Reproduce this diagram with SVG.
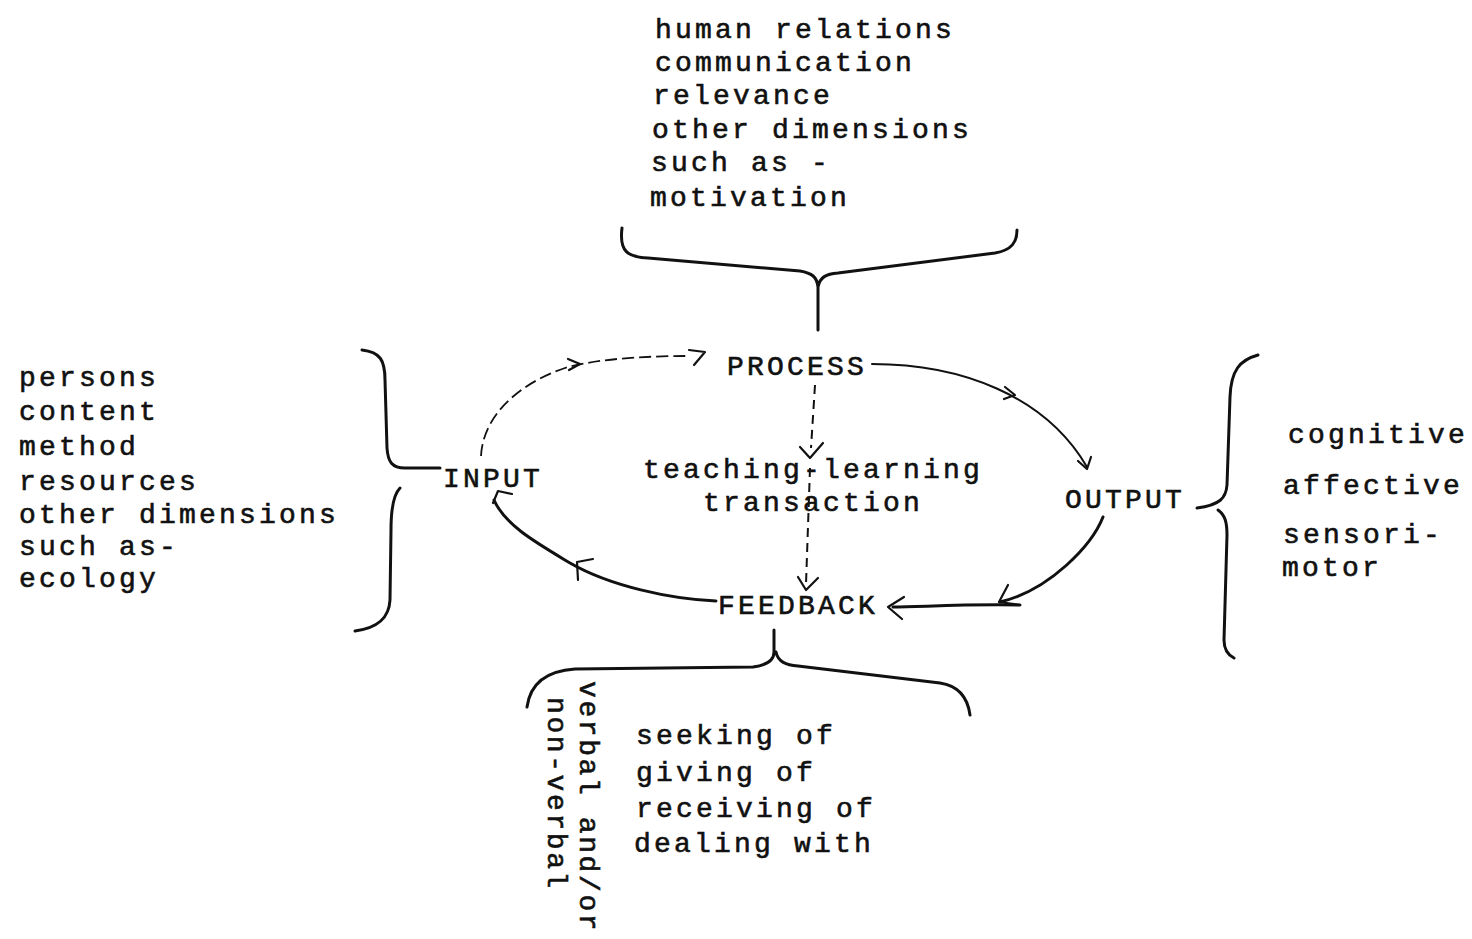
<svg xmlns="http://www.w3.org/2000/svg" width="1472" height="939" viewBox="0 0 1472 939">
<style>
text{font-family:"Liberation Mono","Courier New",monospace;font-size:28px;letter-spacing:3.2px;fill:#111;stroke:#111;stroke-width:0.6px}
text.vert{letter-spacing:2.6px}
.brace{fill:none;stroke:#111;stroke-width:3;stroke-linecap:round;stroke-linejoin:round}
.thick{fill:none;stroke:#111;stroke-width:3;stroke-linecap:round;stroke-linejoin:round}
.thin{fill:none;stroke:#111;stroke-width:2;stroke-linecap:round;stroke-linejoin:round}
.dash{fill:none;stroke:#111;stroke-width:1.8;stroke-dasharray:12 5}
.dashv{fill:none;stroke:#111;stroke-width:2;stroke-dasharray:9 6}
.head{fill:none;stroke:#111;stroke-width:2.2;stroke-linecap:round;stroke-linejoin:round}
</style>
<rect width="1472" height="939" fill="#fff"/>

<g id="process-notes">
<text x="655" y="38">human relations</text>
<text x="655" y="71">communication</text>
<text x="653" y="104">relevance</text>
<text x="652" y="138">other dimensions</text>
<text x="651" y="171">such as -</text>
<text x="650" y="206">motivation</text>
<path class="brace" d="M622,228 C619,252 628,257 648,258 L800,271 C812,273 817,277 818,287 L818,330 M818,287 C820,277 826,274 838,273 L995,253 C1012,250 1017,242 1017,230"/>
</g>

<g id="input-notes">
<text x="19" y="386">persons</text>
<text x="19" y="420">content</text>
<text x="19" y="455">method</text>
<text x="19" y="490">resources</text>
<text x="19" y="523">other dimensions</text>
<text x="19" y="555">such as-</text>
<text x="19" y="587">ecology</text>
<path class="brace" d="M362,350 C380,352 385,360 385,380 L387,448 C388,462 392,468 405,468 L440,468"/>
<path class="brace" d="M400,488 C393,495 391,510 391,530 L390,600 C389,618 378,628 355,631"/>
</g>

<g id="output-notes">
<text x="1288" y="443">cognitive</text>
<text x="1283" y="494">affective</text>
<text x="1283" y="543">sensori-</text>
<text x="1282" y="576">motor</text>
<path class="brace" d="M1258,355 C1240,360 1231,370 1230,397 L1227,485 C1226,498 1220,505 1197,508"/>
<path class="brace" d="M1218,510 C1225,515 1227,522 1227,535 L1224,640 C1224,650 1228,655 1234,658"/>
</g>

<g id="feedback-notes">
<path class="brace" d="M774,630 L774,652 C774,660 768,665 753,667 L575,669 C545,671 530,685 527,707 M776,652 C778,662 786,665 798,666 L940,683 C960,686 968,700 970,715"/>
<text class="vert" transform="translate(580,681) rotate(90)">verbal and/or</text>
<text class="vert" transform="translate(548,697) rotate(90)">non-verbal</text>
<text x="636" y="744">seeking of</text>
<text x="636" y="781">giving of</text>
<text x="636" y="817">receiving of</text>
<text x="634" y="852">dealing with</text>
</g>

<g id="process"><text x="727" y="375">PROCESS</text></g>
<g id="input"><text x="443" y="487">INPUT</text></g>
<g id="transaction">
<text x="643" y="478">teaching-learning</text>
<text x="703" y="511">transaction</text>
</g>
<g id="output"><text x="1065" y="508">OUTPUT</text></g>
<g id="feedback"><text x="718" y="614">FEEDBACK</text></g>

<g id="connectors">
<path class="dash" d="M481,456 C483,415 520,383 565,368 C600,358 650,356 690,356"/>
<path class="head" d="M568,359 L580,364 L569,370"/>
<path class="head" d="M689,350 L705,352 L694,365"/>

<path class="thin" d="M872,364 C960,364 1045,395 1087,467"/>
<path class="head" d="M1005,387 L1015,395 L1004,399"/>
<path class="head" d="M1078,461 L1087,469 L1091,457"/>

<path class="thick" d="M1103,517 C1092,545 1050,590 1000,602"/>
<path class="head" d="M1008,585 L999,602 L1020,605"/>
<path class="thick" d="M1020,605 C960,604 920,607 893,607"/>
<path class="head" d="M904,597 L888,607 L902,619"/>

<path class="thick" d="M716,601 C670,599 610,586 570,563 C535,542 505,525 494,500"/>
<path class="head" d="M593,559 L577,562 L578,580"/>
<path class="head" d="M493,503 L498,491 L512,494"/>

<path class="dashv" d="M815,385 L811,448"/>
<path class="head" d="M800,447 L810,458 L823,443"/>
<path class="dashv" d="M810,468 L806,584"/>
<path class="head" d="M798,577 L806,590 L818,578"/>
</g>
</svg>
